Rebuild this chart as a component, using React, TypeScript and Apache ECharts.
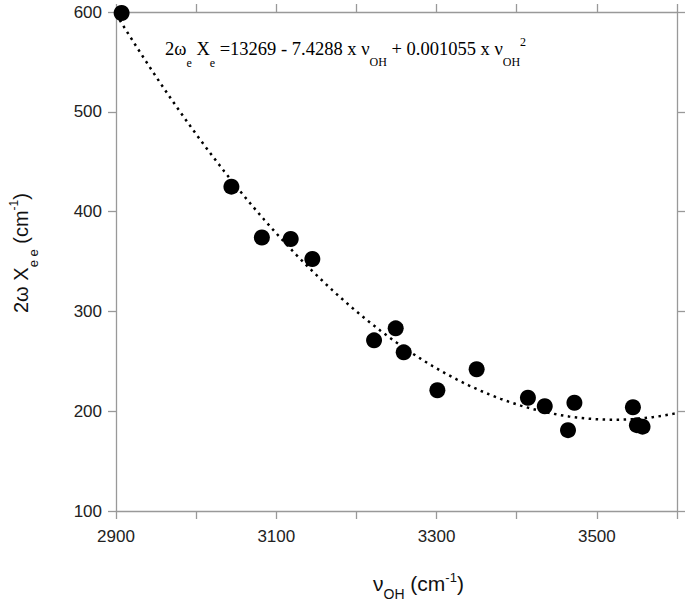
import React, { useEffect, useRef } from "react";
import * as echarts from "echarts";

// measured points: nu_OH (cm^-1), 2 omega_e X_e (cm^-1)
const nuOH = [2907, 3044, 3082, 3118, 3145, 3222, 3249, 3259, 3301, 3350, 3414, 3435, 3472, 3464, 3545, 3550, 3557];
const omegaX = [599, 425, 374, 372.5, 352.5, 271, 283, 259, 221, 242, 213.5, 205, 208.5, 181, 204, 186, 184.5];

// fit: 2wX = c0 + c1*nu + c2*nu^2 (from the chart's equation)
const fitCoefficients = [13269, -7.4288, 0.001055];
const fitRange = [2900, 3600];

const xTicks = [2900, 3100, 3300, 3500];
const yTicks = [100, 200, 300, 400, 500, 600];

const SERIF = "'Liberation Serif', 'Times New Roman', serif";
const SANS = "'Liberation Sans', Arial, sans-serif";

type Piece = { t: string; size: number; base: number };

function buildPieces(pieces: Piece[], family: string, color: string) {
  const canvas = document.createElement("canvas");
  const ctx = canvas.getContext("2d")!;
  let x = 0;
  const out: any[] = [];
  for (const p of pieces) {
    ctx.font = `${p.size}px ${family}`;
    const w = ctx.measureText(p.t).width;
    out.push({
      type: "text",
      x,
      y: p.base - 0.3 * p.size,
      silent: true,
      style: { text: p.t, fontSize: p.size, fontFamily: family, fill: color, align: "left", verticalAlign: "middle" },
    });
    x += w;
  }
  return out;
}

export default function App() {
  const ref = useRef<HTMLDivElement>(null);
  useEffect(() => {
    if (!ref.current) return;
    const chart = echarts.init(ref.current, undefined, { renderer: "svg" });
    const fitLine: number[][] = [];
    for (let v = fitRange[0]; v <= fitRange[1]; v += 5) {
      fitLine.push([v, fitCoefficients[0] + fitCoefficients[1] * v + fitCoefficients[2] * v * v]);
    }
    const points = nuOH.map((x, i) => [x, omegaX[i]]);
    const axisColor = "#999";
    const labelStyle = { color: "#222", fontSize: 17, fontFamily: SANS };

    const M = 18.5, S = 12;
    const equation = buildPieces(
      [
        { t: "2ω", size: M, base: 0 },
        { t: "e", size: S, base: 12 },
        { t: " X", size: M, base: 0 },
        { t: "e", size: S, base: 12 },
        { t: " =13269 - 7.4288 x ν", size: M, base: 0 },
        { t: "OH", size: S, base: 11 },
        { t: " + 0.001055 x ν", size: M, base: 0 },
        { t: "OH", size: S, base: 11 },
        { t: "2", size: S, base: -9 },
      ],
      SERIF,
      "#000"
    );
    const xTitle = buildPieces(
      [
        { t: "ν", size: 21, base: 0 },
        { t: "OH", size: 14, base: 8 },
        { t: " (cm", size: 21, base: 0 },
        { t: "-1", size: 13, base: -9 },
        { t: ")", size: 21, base: 0 },
      ],
      SANS,
      "#111"
    );
    const yTitle = buildPieces(
      [
        { t: "2ω X", size: 20, base: 0 },
        { t: "e e", size: 13, base: 10 },
        { t: " (cm", size: 20, base: 0 },
        { t: "-1", size: 12, base: -9 },
        { t: ")", size: 20, base: 0 },
      ],
      SANS,
      "#111"
    );

    chart.setOption({
      animation: false,
      backgroundColor: "#fff",
      grid: { left: 116, right: 8, top: 12, bottom: 93 },
      xAxis: [
        {
          type: "value", min: 2900, max: 3600, interval: 100, position: "bottom",
          axisLine: { show: true, lineStyle: { color: axisColor, width: 1.3 } },
          axisTick: { show: true, inside: false, length: 8, lineStyle: { color: axisColor, width: 1.3 } },
          axisLabel: {
            ...labelStyle, margin: 17,
            formatter: (v: number) => (xTicks.indexOf(v) >= 0 ? String(v) : ""),
          },
          splitLine: { show: false },
        },
        {
          type: "value", min: 2900, max: 3600, interval: 100, position: "top",
          axisLine: { show: true, lineStyle: { color: axisColor, width: 1.3 } },
          axisTick: { show: true, inside: false, length: 8, lineStyle: { color: axisColor, width: 1.3 } },
          axisLabel: { show: false },
          splitLine: { show: false },
        },
      ],
      yAxis: [
        {
          type: "value", min: 100, max: 600, interval: 100, position: "left",
          axisLine: { show: true, lineStyle: { color: axisColor, width: 1.3 } },
          axisTick: { show: true, inside: false, length: 8, lineStyle: { color: axisColor, width: 1.3 } },
          axisLabel: {
            ...labelStyle, margin: 14,
            formatter: (v: number) => (yTicks.indexOf(v) >= 0 ? String(v) : ""),
          },
          splitLine: { show: false },
        },
        {
          type: "value", min: 100, max: 600, interval: 100, position: "right",
          axisLine: { show: true, lineStyle: { color: axisColor, width: 1.3 } },
          axisTick: { show: true, inside: false, length: 8, lineStyle: { color: axisColor, width: 1.3 } },
          axisLabel: { show: false },
          splitLine: { show: false },
        },
      ],
      series: [
        {
          type: "line", data: fitLine, showSymbol: false, symbol: "none", z: 2,
          lineStyle: { color: "#000", width: 2.5, type: [2.5, 4.5] },
        },
        {
          type: "scatter", data: points, symbol: "circle", symbolSize: 16, z: 3,
          itemStyle: { color: "#000", opacity: 1 },
        },
      ],
      graphic: [
        { type: "group", x: 165, y: 55, children: equation },
        { type: "group", x: 373, y: 590, children: xTitle },
        { type: "group", x: 27, y: 313, rotation: Math.PI / 2, children: yTitle },
      ],
    });
    return () => chart.dispose();
  }, []);
  return <div ref={ref} style={{ position: "fixed", left: 0, top: 0, width: 685, height: 604 }} />;
}
